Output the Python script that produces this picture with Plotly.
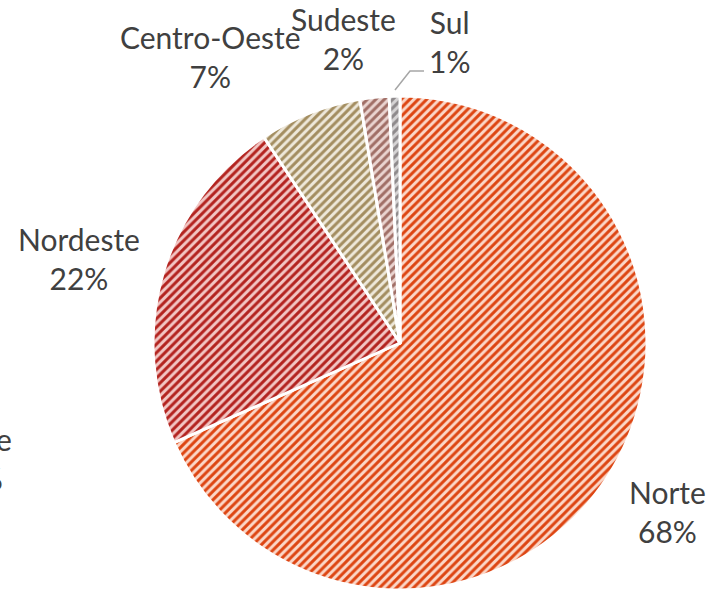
import plotly.graph_objects as go

regions = ["Norte", "Nordeste", "Centro-Oeste", "Sudeste", "Sul"]
shares = [68.4, 22.3, 6.7, 1.9, 0.7]
fg_colors = ["#DD4512", "#B3231F", "#A38D60", "#A06E66", "#8E8A8C"]
bg_colors = ["#FBD7C8", "#F2C6C4", "#EEE8DA", "#EAD4D0", "#D6D4D5"]

# label anchor positions on the page (pixels: x from left, y from top)
label_px = [(667, 511), (79, 258), (210, 56), (343, 39), (449, 42)]

W, H = 710, 590
total = sum(shares)


def px2paper(x, y):
    return x / W, 1 - y / H


cx, cy, r = 400, 343, 247
x0, _ = px2paper(cx - r, cy)
x1, _ = px2paper(cx + r, cy)
_, ytop = px2paper(cx, cy - r)
_, ybot = px2paper(cx, cy + r)

fig = go.Figure(go.Pie(
    labels=regions,
    values=shares,
    sort=False,
    direction="clockwise",
    rotation=0,
    textinfo="none",
    marker=dict(
        colors=bg_colors,
        line=dict(color="white", width=3),
        pattern=dict(shape="/", fgcolor=fg_colors, bgcolor=bg_colors,
                     size=6, solidity=0.5, fgopacity=1),
    ),
    domain=dict(x=[x0, x1], y=[max(ybot, 0), ytop]),
    showlegend=False,
    hoverinfo="label+percent",
))

font = dict(family="Lato", size=30, color="#404040")
annotations = []
for name, val, (px, py) in zip(regions, shares, label_px):
    ax, ay = px2paper(px, py)
    annotations.append(dict(
        text=f"{name}<br>{round(val / total * 100)}%",
        x=ax, y=ay, xref="paper", yref="paper",
        xanchor="center", yanchor="middle", showarrow=False,
        font=font, align="center",
    ))
# partially visible label cut by the left edge in the original
gx, gy = px2paper(-27, 459)
annotations.append(dict(
    text=f"{regions[0]}<br>{round(shares[0] / total * 100)}%",
    x=gx, y=gy, xref="paper", yref="paper",
    xanchor="center", yanchor="middle", showarrow=False,
    font=font, align="center",
))

leader = [(395, 90), (410, 71), (424, 71)]
path = "M " + " L ".join("{},{}".format(*px2paper(x, y)) for x, y in leader)

fig.update_layout(
    width=W, height=H,
    margin=dict(l=0, r=0, t=0, b=0),
    paper_bgcolor="white",
    plot_bgcolor="white",
    annotations=annotations,
    shapes=[dict(type="path", path=path, xref="paper", yref="paper",
                 line=dict(color="#A6A6A6", width=1.5))],
)

fig.write_html("out.html",
               config={"displayModeBar": False},
               post_script="document.body.style.margin='0px';")
